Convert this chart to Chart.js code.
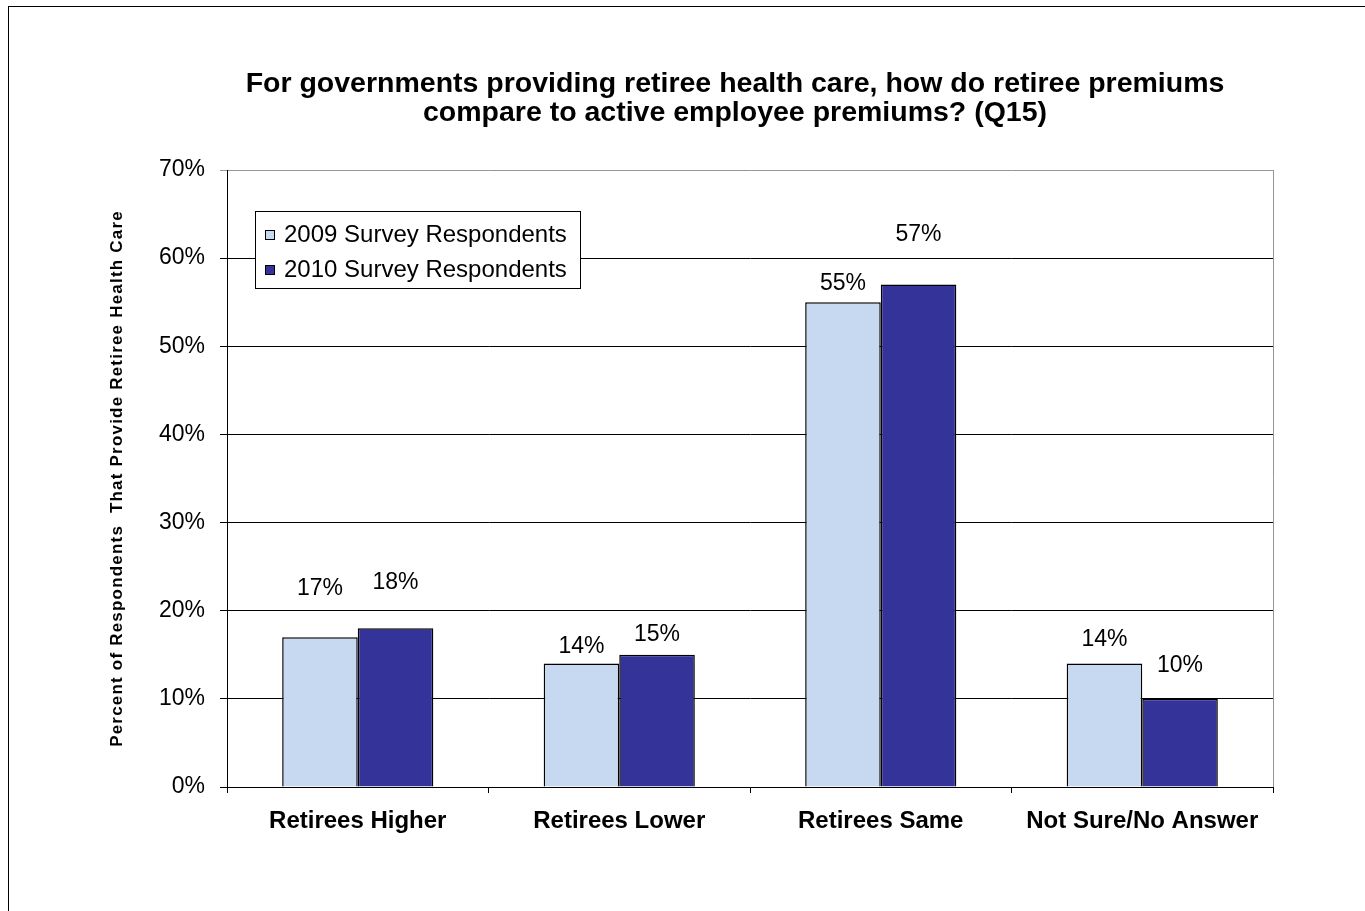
<!DOCTYPE html>
<html>
<head>
<meta charset="utf-8">
<title>Retiree premiums (Q15)</title>
<script src="https://cdn.jsdelivr.net/npm/chart.js@4/dist/chart.umd.min.js"></script>
<style>
    body { margin: 0; background: #fff; overflow: hidden; }
    #frame { position: absolute; left: 8px; top: 6px; width: 1500px; height: 1000px; border: 1px solid #000; }
    #wrap { position: absolute; left: 0; top: 0; width: 1365px; height: 911px; }
</style>
</head>
<body>
<div id="frame"></div>
<div id="wrap"><canvas id="premiumsChart"></canvas></div>
<script>
const categories = ['Retirees Higher', 'Retirees Lower', 'Retirees Same', 'Not Sure/No Answer'];
const seriesLabels = ['2009 Survey Respondents', '2010 Survey Respondents'];
const pct2009 = [17, 14, 55, 14];
const pct2010 = [18, 15, 57, 10];
const yTickValues = [0, 10, 20, 30, 40, 50, 60, 70];
const titleLines = [
    'For governments providing retiree health care, how do retiree premiums',
    'compare to active employee premiums? (Q15)'
];
const yTitle = 'Percent of Respondents  That Provide Retiree Health Care';

const FONT = '"Liberation Sans", Arial, sans-serif';

document.addEventListener('DOMContentLoaded', function () {

    // bord droit du cadre en gris
    const plotFrame = {
        id: 'plotFrame',
        beforeDatasetsDraw(chart) {
            const { ctx, chartArea } = chart;
            ctx.save();
            ctx.strokeStyle = '#969696';
            ctx.lineWidth = 1;
            ctx.beginPath();
            ctx.moveTo(chartArea.right + 0.5, chartArea.top);
            ctx.lineTo(chartArea.right + 0.5, chartArea.bottom);
            ctx.stroke();
            ctx.restore();
        }
    };

    // titre principal et titre de l'axe Y
    const titles = {
        id: 'titles',
        afterDraw(chart, args, opts) {
            const { ctx, chartArea } = chart;
            ctx.save();
            ctx.fillStyle = '#000';
            ctx.textAlign = 'center';
            ctx.textBaseline = 'middle';
            ctx.font = 'bold 28.5px ' + FONT;
            titleLines.forEach((line, i) => {
                ctx.fillText(line, opts.titleX, opts.titleY + i * opts.titleGap);
            });

            ctx.translate(opts.yTitleX, (chartArea.top + chartArea.bottom) / 2);
            ctx.rotate(-Math.PI / 2);
            ctx.font = 'bold 17px ' + FONT;
            ctx.letterSpacing = opts.yTitleSpacing;
            ctx.fillText(yTitle, 0, 0);
            ctx.restore();
        }
    };

    // légende encadrée dans la zone du graphique
    const boxLegend = {
        id: 'boxLegend',
        afterDraw(chart, args, opts) {
            const { ctx } = chart;
            ctx.save();
            ctx.fillStyle = '#fff';
            ctx.fillRect(opts.x, opts.y, opts.w, opts.h);
            ctx.strokeStyle = '#000';
            ctx.lineWidth = 1;
            ctx.strokeRect(opts.x + 0.5, opts.y + 0.5, opts.w, opts.h);
            ctx.font = '24px ' + FONT;
            ctx.textBaseline = 'middle';
            ctx.textAlign = 'left';
            chart.data.datasets.forEach((ds, i) => {
                const cy = opts.y + opts.firstRow + i * opts.rowGap;
                ctx.fillStyle = ds.backgroundColor;
                ctx.fillRect(opts.x + 10, cy - 5, 10, 10);
                ctx.strokeStyle = '#000';
                ctx.strokeRect(opts.x + 10.5, cy - 4.5, 9, 9);
                ctx.fillStyle = '#000';
                ctx.fillText(ds.label, opts.x + 29, cy);
            });
            ctx.restore();
        }
    };

    // valeurs au-dessus des barres
    const barValues = {
        id: 'barValues',
        afterDatasetsDraw(chart, args, opts) {
            const { ctx } = chart;
            ctx.save();
            ctx.fillStyle = '#000';
            ctx.font = '23px ' + FONT;
            ctx.textAlign = 'center';
            ctx.textBaseline = 'middle';
            chart.data.datasets.forEach((ds, d) => {
                chart.getDatasetMeta(d).data.forEach((bar, i) => {
                    ctx.fillText(ds.data[i] + '%', bar.x, bar.y - opts.lift[d][i]);
                });
            });
            ctx.restore();
        }
    };

    new Chart(document.getElementById('premiumsChart'), {
        type: 'bar',
        data: {
            labels: categories,
            datasets: [{
                label: seriesLabels[0],
                data: pct2009,
                backgroundColor: '#C6D9F1',
                borderColor: '#000',
                borderWidth: 1.5
            }, {
                label: seriesLabels[1],
                data: pct2010,
                backgroundColor: '#333399',
                borderColor: '#000',
                borderWidth: 1.5
            }]
        },
        plugins: [plotFrame, titles, boxLegend, barValues],
        options: {
            responsive: true,
            maintainAspectRatio: false,
            animation: false,
            layout: { padding: { left: 100, right: 92, top: 170, bottom: 64 } },
            datasets: { bar: { categoryPercentage: 0.578, barPercentage: 1.0 } },
            plugins: {
                legend: { display: false },
                tooltip: { enabled: false },
                titles: { titleX: 735, titleY: 84, titleGap: 29, yTitleX: 117, yTitleSpacing: '1.2px' },
                boxLegend: { x: 255, y: 211, w: 325, h: 77, firstRow: 24, rowGap: 35 },
                barValues: { lift: [[49, 17, 19, 24], [46, 20, 50, 33]] }
            },
            scales: {
                x: {
                    afterFit: (scale) => { scale.height = 60; },
                    grid: {
                        offset: true,
                        drawOnChartArea: false,
                        tickLength: 6,
                        color: '#000'
                    },
                    border: { color: '#000' },
                    ticks: {
                        color: '#000',
                        padding: 14,
                        font: { family: FONT, size: 24, weight: 'bold' }
                    }
                },
                y: {
                    min: 0,
                    max: 70,
                    afterFit: (scale) => { scale.width = 127; },
                    afterBuildTicks: (scale) => {
                        scale.ticks = yTickValues.map(v => ({ value: v }));
                    },
                    grid: {
                        tickLength: 7,
                        color: (c) => c.tick && c.tick.value === 70 ? '#969696' : '#000'
                    },
                    border: { color: '#000' },
                    ticks: {
                        color: '#000',
                        padding: 15,
                        font: { family: FONT, size: 23 },
                        callback: (v) => v + '%'
                    }
                }
            }
        }
    });
});
</script>
</body>
</html>
